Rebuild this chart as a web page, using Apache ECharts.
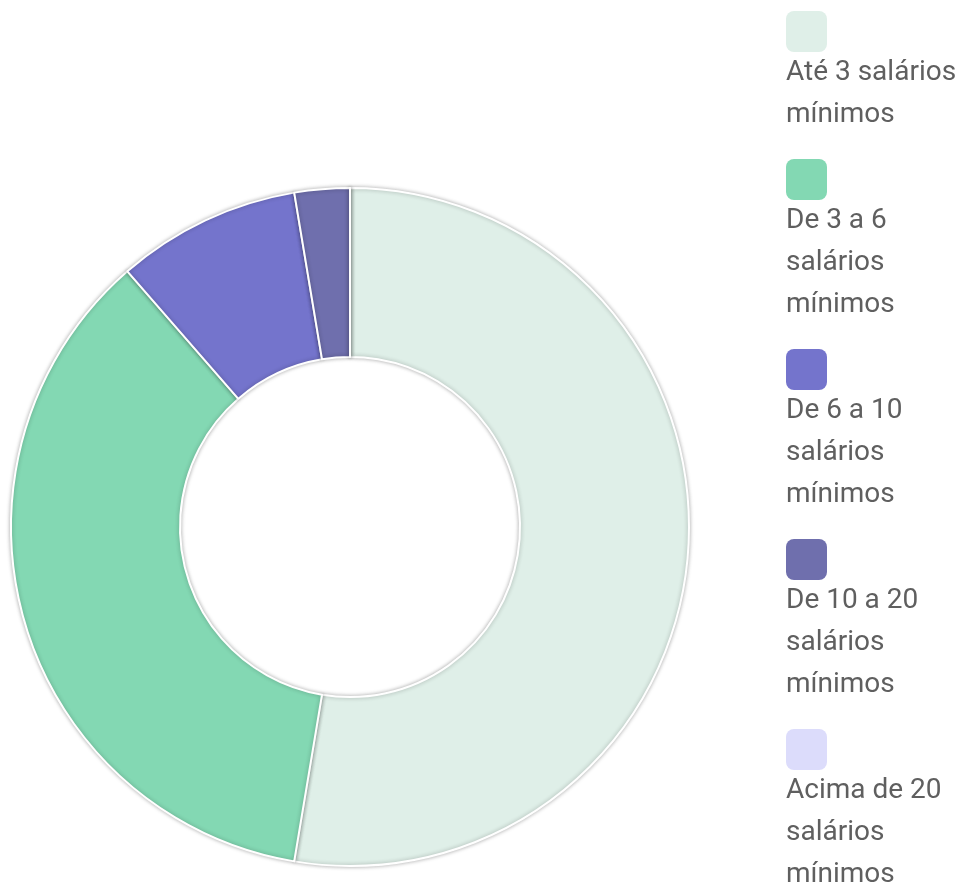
<!DOCTYPE html>
<html>
<head>
<meta charset="utf-8">
<script src="https://cdn.jsdelivr.net/npm/echarts@6/dist/echarts.min.js"></script>
<style>
  html, body { margin: 0; padding: 0; background: #fff; }
  #chart { width: 965px; height: 884px; }
</style>
</head>
<body>
<div id="chart"></div>
<script>
// faixas de renda e contagens
const faixas = [
  'Até 3 salários mínimos',
  'De 3 a 6 salários mínimos',
  'De 6 a 10 salários mínimos',
  'De 10 a 20 salários mínimos',
  'Acima de 20 salários mínimos'
]
// rótulos da legenda com as quebras de linha
const rotulos = [
  ['Até 3 salários', 'mínimos'],
  ['De 3 a 6', 'salários', 'mínimos'],
  ['De 6 a 10', 'salários', 'mínimos'],
  ['De 10 a 20', 'salários', 'mínimos'],
  ['Acima de 20', 'salários', 'mínimos']
]
const valores = [60, 41, 10, 3, 0]
const cores = ['#dfefe8', '#83d8b3', '#7474cc', '#6f6fad', '#dcdcfb']

const myChart = echarts.init(document.getElementById('chart'))

// um estilo rich por item para desenhar o quadradinho colorido acima do texto
const rich = { txt: { fontSize: 28, lineHeight: 42, color: '#5f5f5f', fontFamily: 'Roboto' } }
cores.forEach((c, i) => {
  rich['b' + i] = { width: 41, height: 41, lineHeight: 41, backgroundColor: c, borderRadius: 8 }
})

const option = {
  color: cores,
  tooltip: { trigger: 'item' },
  legend: {
    orient: 'vertical',
    left: 776,
    top: 6,
    height: 1000,
    icon: 'none',
    itemWidth: 0,
    itemHeight: 0,
    itemGap: 30,
    data: faixas,
    formatter: name => {
      const i = faixas.indexOf(name)
      return '{b' + i + '|}\n' + rotulos[i].map(l => '{txt|' + l + '}').join('\n')
    },
    textStyle: { rich: rich }
  },
  series: [
    {
      name: 'Renda',
      type: 'pie',
      center: [350, 527],
      radius: [170, 339],
      startAngle: 90,
      clockwise: true,
      avoidLabelOverlap: false,
      label: { show: false },
      labelLine: { show: false },
      emphasis: { scale: false },
      itemStyle: {
        borderColor: '#fff',
        borderWidth: 2,
        shadowBlur: 4,
        shadowColor: 'rgba(0, 0, 0, 0.3)'
      },
      data: faixas.map((n, i) => ({ name: n, value: valores[i] }))
    }
  ]
}

option && myChart.setOption(option)
</script>
</body>
</html>
